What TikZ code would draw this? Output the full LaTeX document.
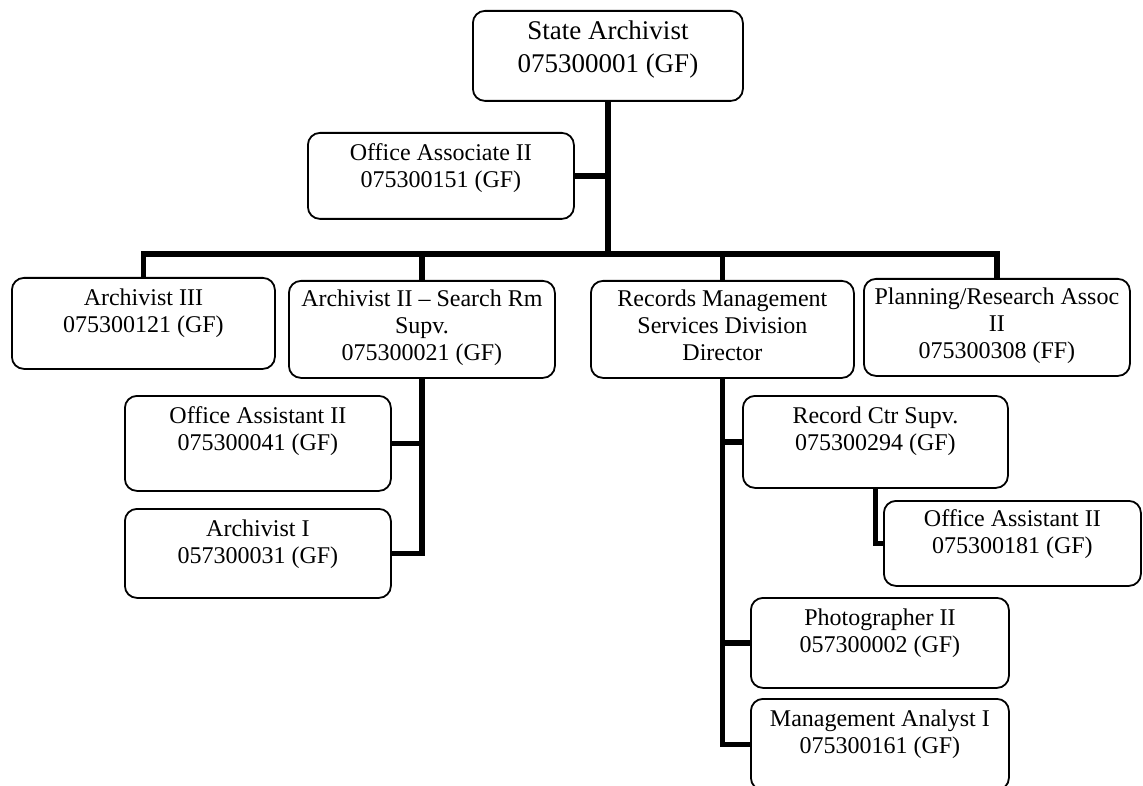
\documentclass[tikz,border=0pt]{standalone}
\usepackage{fontspec}
\setmainfont{Liberation Serif}
\tikzset{
  post/.style={draw, line width=1.8pt, rounded corners=12pt, inner sep=0pt, anchor=north west, font=\fontsize{24}{27}\selectfont},
  link/.style={line width=5.5pt},
}

\begin{document}
\begin{tikzpicture}[x=1pt,y=-1pt]
  \useasboundingbox (0,0) rectangle (1143,786);
  \clip (0,0) rectangle (1143,786);
  % top of the chart
  \node[post, font=\fontsize{27}{33}\selectfont] (sa) at (472,10) {\parbox[t][90pt][t]{270pt}{\centering\vspace*{6pt}\strut State Archivist\\075300001 (GF)}};
  \node[post] (oa) at (307,132) {\parbox[t][86pt][t]{266pt}{\centering\vspace*{9pt}\strut Office Associate II\\075300151 (GF)}};
  % second row
  \node[post] (a3) at (11,277) {\parbox[t][91pt][t]{263pt}{\centering\vspace*{9pt}\strut Archivist III\\075300121 (GF)}};
  \node[post] (a2) at (288,280) {\parbox[t][97pt][t]{266pt}{\centering\vspace*{7pt}\strut Archivist II -- Search Rm\\Supv.\\075300021 (GF)}};
  \node[post] (rmsd) at (590,280) {\parbox[t][97pt][t]{263pt}{\centering\vspace*{7pt}\strut Records Management\\Services Division\\Director}};
  \node[post] (pra) at (863,278) {\parbox[t][97pt][t]{266pt}{\centering\vspace*{7pt}\strut Planning/Research Assoc\\II\\075300308 (FF)}};
  % under archivist II
  \node[post] (oas) at (124,395) {\parbox[t][95pt][t]{266pt}{\centering\vspace*{9pt}\strut Office Assistant II\\075300041 (GF)}};
  \node[post] (a1) at (124,508) {\parbox[t][89pt][t]{266pt}{\centering\vspace*{9pt}\strut Archivist I\\057300031 (GF)}};
  % under records management
  \node[post] (rcs) at (742,395) {\parbox[t][92pt][t]{265pt}{\centering\vspace*{9pt}\strut Record Ctr Supv.\\075300294 (GF)}};
  \node[post] (oas2) at (883,500) {\parbox[t][85pt][t]{257pt}{\centering\vspace*{7pt}\strut Office Assistant II\\075300181 (GF)}};
  \node[post] (ph) at (750,597) {\parbox[t][90pt][t]{258pt}{\centering\vspace*{9pt}\strut Photographer II\\057300002 (GF)}};
  \node[post] (ma) at (750,698) {\parbox[t][91pt][t]{258pt}{\centering\vspace*{9pt}\strut Management Analyst I\\075300161 (GF)}};

  % lines
  \coordinate (bus) at (607,254);
  \draw[link] (sa.south) -- (sa.south |- bus);
  \draw[link] (oa.east) -- (oa.east -| sa.south);
  \draw[link] (a3.north) -- (a3.north |- bus) -- (pra.north |- bus) -- (pra.north);
  \draw[link] (a2.north) -- (a2.north |- bus);
  \draw[link] (rmsd.north) -- (rmsd.north |- bus);
  \draw[link] (oas.east) -- (oas.east -| a2.south);
  \draw[link] (a2.south) |- (a1.east);
  \draw[link] (rcs.west -| rmsd.south) -- (rcs.west);
  \draw[link] (ph.west -| rmsd.south) -- (ph.west);
  \draw[link] (rmsd.south) |- (ma.west);
  \draw[link] (rcs.south) |- (oas2.west);
\end{tikzpicture}
\end{document}
